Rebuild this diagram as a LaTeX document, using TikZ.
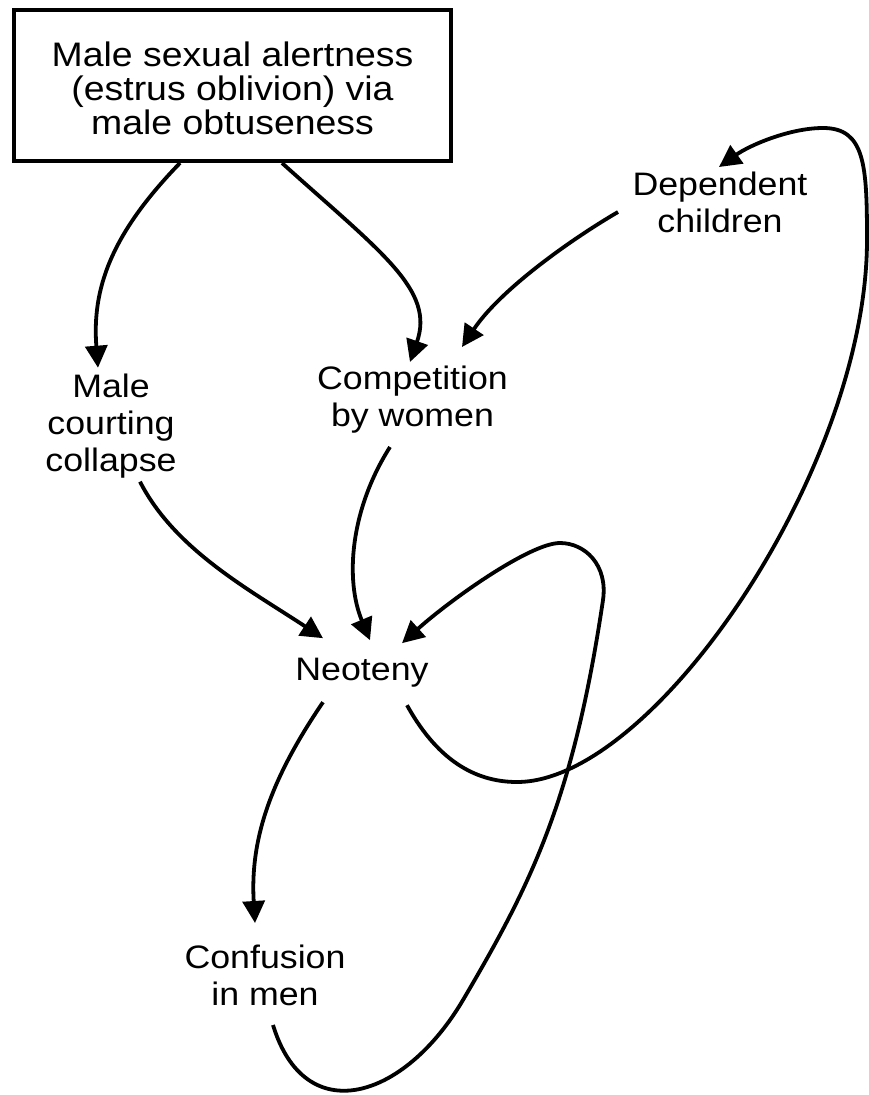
\documentclass[tikz,border=0pt]{standalone}
\usepackage{fontspec}
\setmainfont[FakeStretch=1.1]{Liberation Sans}
\usetikzlibrary{arrows.meta,calc}
\newcommand\lblfont{\fontsize{32.5}{37}\selectfont}
\newcommand\boxfont{\fontsize{34}{34}\selectfont}
\begin{document}
\begin{tikzpicture}[x=1pt,y=-1pt,
  lbl/.style={align=center,inner sep=0pt,font=\lblfont},
  mainbox/.style={draw,line width=4pt,align=center,inner sep=0pt,
    minimum width=437pt,minimum height=151pt,font=\boxfont},
  arr/.style={line width=3.8pt,-{Triangle[length=22pt,width=22pt]}}]
\useasboundingbox (0,0) rectangle (869,1095);

\node[mainbox] (box) at (232.5,85.5)
  {\rule{0pt}{31pt}Male sexual alertness\\(estrus oblivion) via\\male obtuseness};
\node[lbl] (mcc) at (111,425.7) {Male\\courting\\collapse};
\node[lbl] (comp) at (412.5,400) {Competition\\by women};
\node[lbl] (dep) at (720,202) {Dependent\\children};
\node[lbl,anchor=base] (neo) at (362,680) {Neoteny};
\node[lbl] (conf) at (265,975) {Confusion\\in men};

% box -> male courting collapse
\draw[arr] ($(box.south)+(-52.5,0)$) .. controls (110,235) and (92,290) .. ($(mcc)+(-13,-58)$);
% box -> competition
\draw[arr] ($(box.south)+(49.5,0)$) .. controls (382,253) and (435,290) .. ($(comp)+(-2.5,-38)$);
% dependent children -> competition
\draw[arr] ($(dep)+(-102,10)$) .. controls (570,240) and (500,290) .. ($(comp)+(49.5,-53)$);
% male courting collapse -> neoteny
\draw[arr] ($(mcc)+(29,56)$) .. controls (175,550) and (250,590) .. ($(neo)+(-39,-34)$);
% competition -> neoteny
\draw[arr] ($(comp)+(-22.5,47)$) .. controls (350,510) and (345,580) .. ($(neo)+(8,-32)$);
% confusion -> neoteny (loop)
\draw[arr] ($(conf)+(8,50)$) .. controls (305,1130) and (404,1100) .. (463,1000)
  .. controls (530,886) and (573,802) .. (603,600)
  .. controls (608,565) and (585,543) .. (560,543)
  .. controls (530,543) and (450,600) .. ($(neo)+(40,-29)$);
% neoteny -> dependent children (loop)
\draw[arr] ($(neo)+(45,33)$) .. controls (440,765) and (480,782) .. (517,782)
  .. controls (654,782) and (867,468) .. (867,240)
  .. controls (867,165) and (865,128) .. (823,128)
  .. controls (790,128) and (750,145) .. ($(dep)+(-1,-35)$);
% neoteny -> confusion
\draw[arr] ($(neo)+(-39,30)$) .. controls (270,780) and (250,840) .. ($(conf)+(-10,-52)$);
\end{tikzpicture}
\end{document}
